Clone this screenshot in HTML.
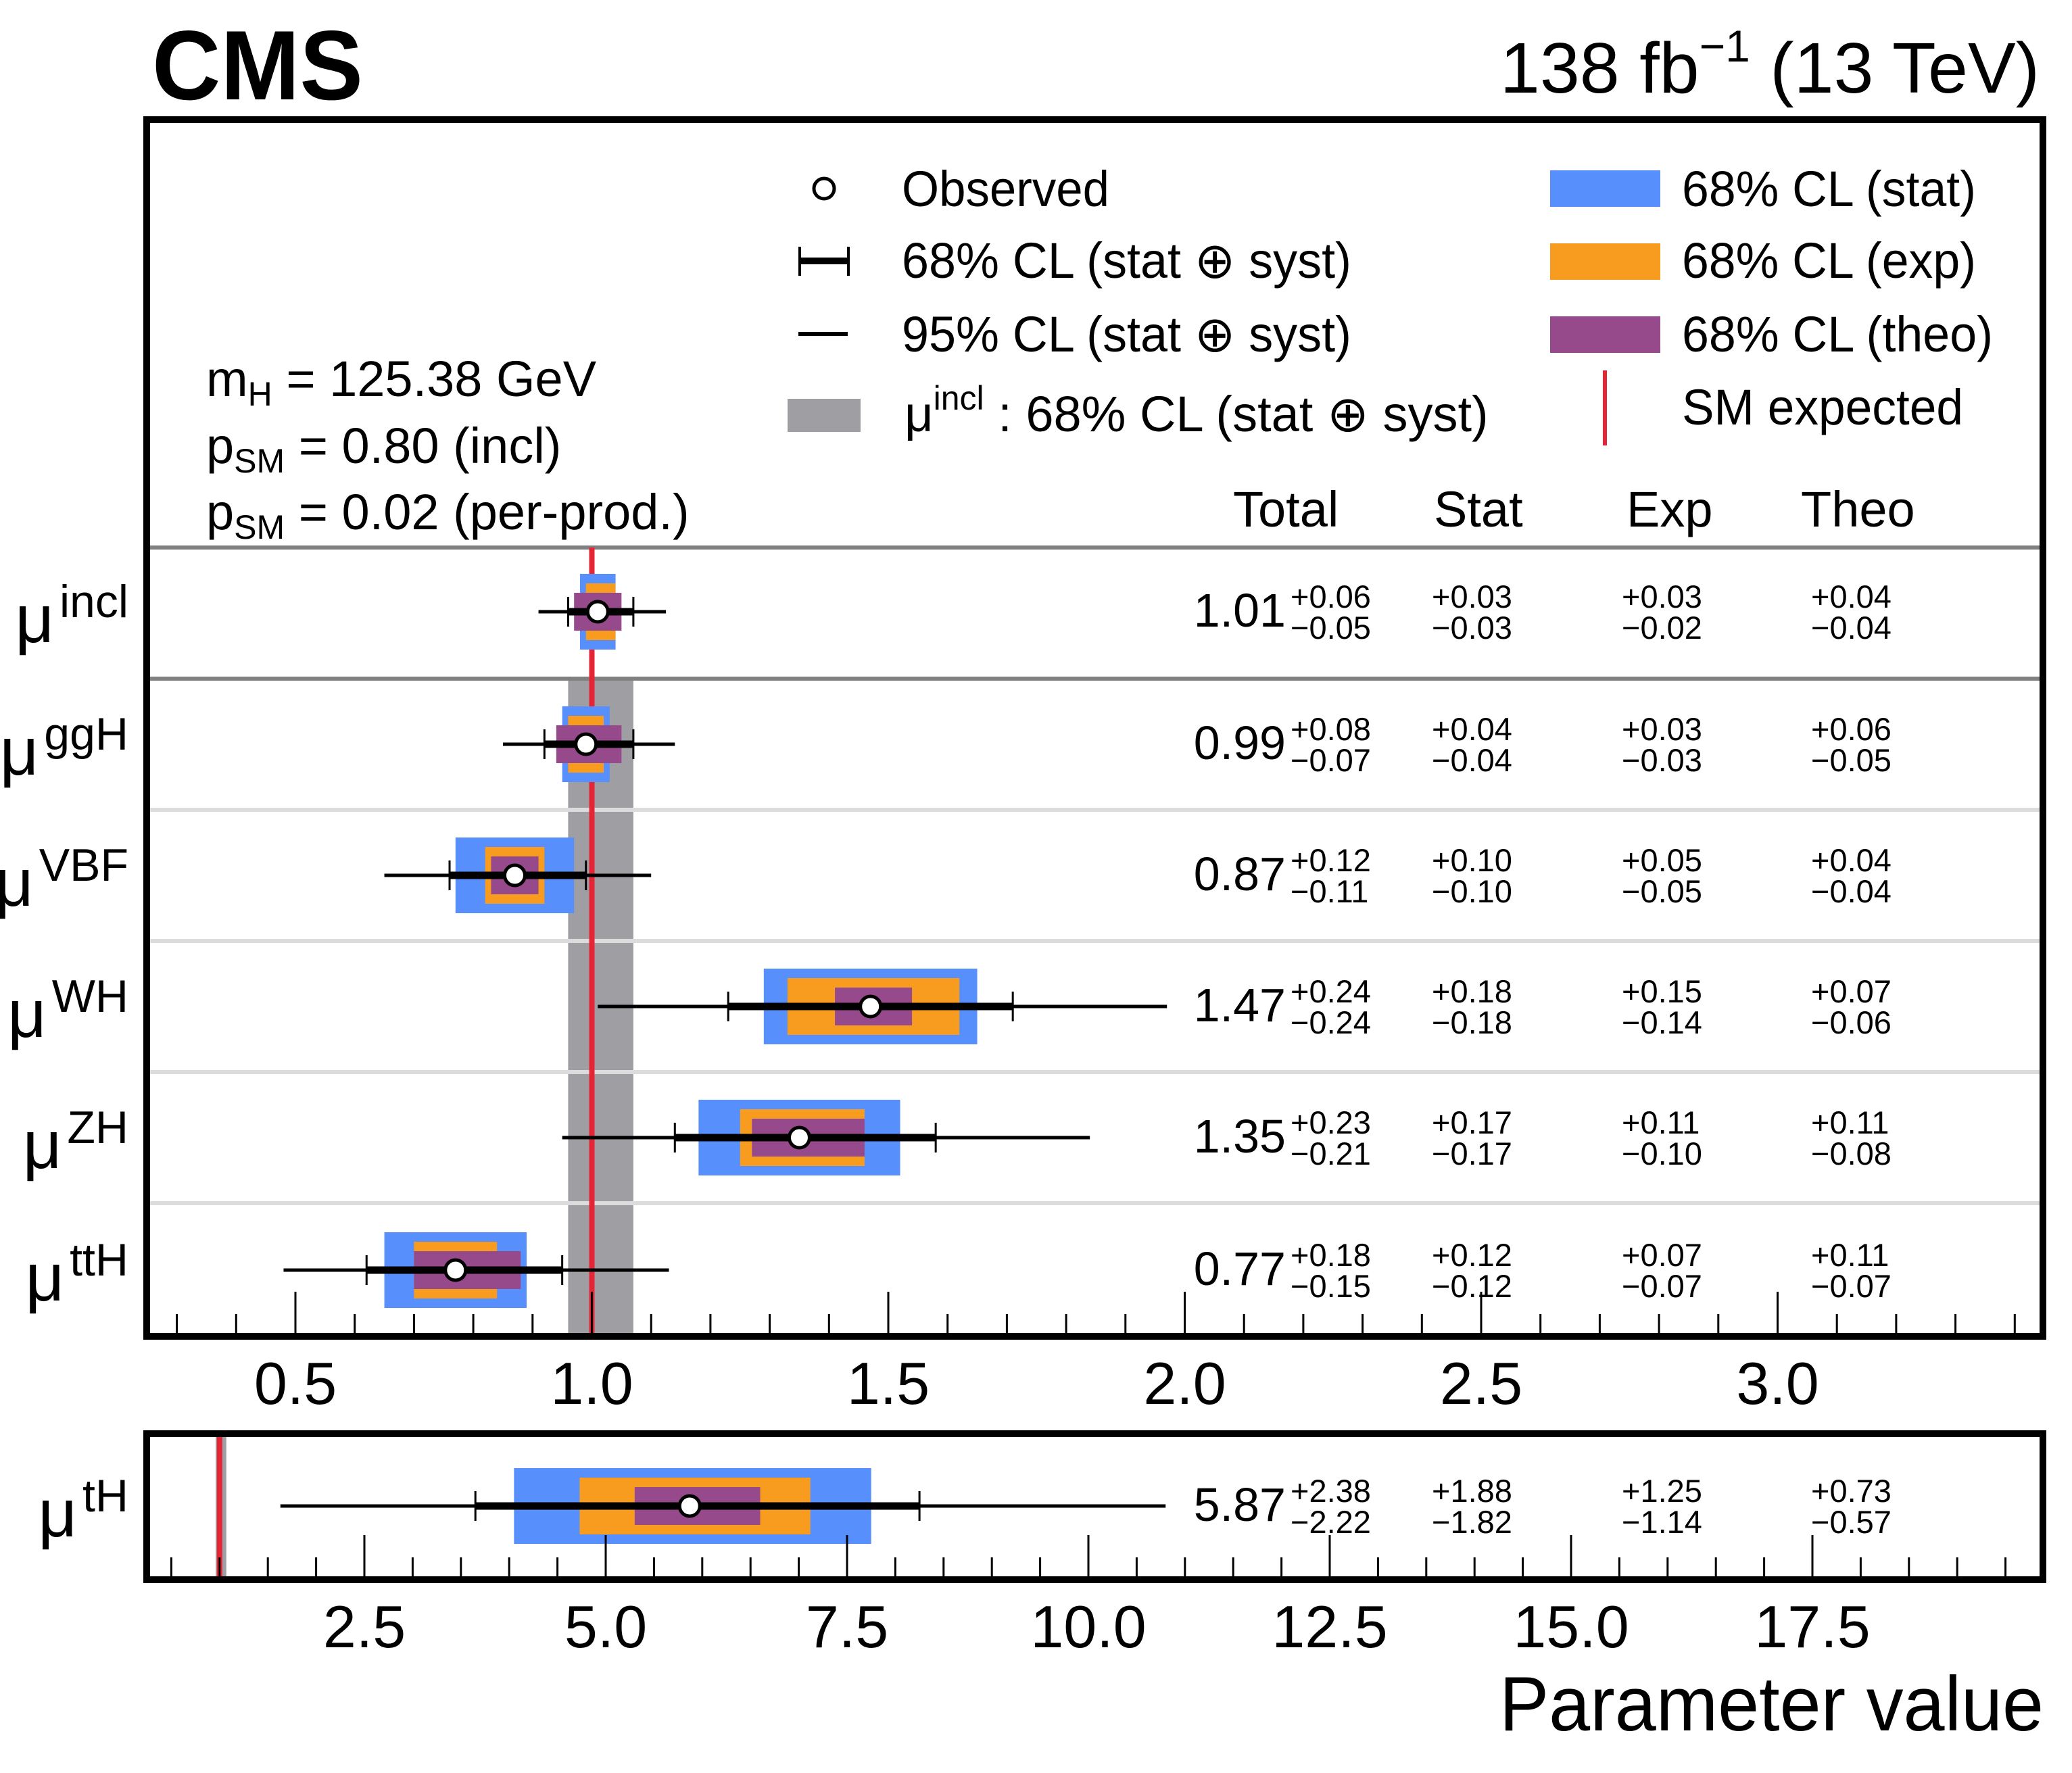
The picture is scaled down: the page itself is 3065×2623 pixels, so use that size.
<!DOCTYPE html>
<html><head><meta charset="utf-8"><style>
html,body{margin:0;padding:0;background:#fff;}
svg{display:block;font-family:"Liberation Sans",Arial,sans-serif;}
</style></head><body>
<svg id="chart" width="3065" height="2623" viewBox="0 0 3065 2623" xmlns="http://www.w3.org/2000/svg">
<rect x="0" y="0" width="3065" height="2623" fill="#fff"/>
<g id="plot"></g>
<text x="225" y="147" font-size="146" font-weight="bold" textLength="312" lengthAdjust="spacingAndGlyphs">CMS</text>
<text x="3017" y="137" font-size="106" text-anchor="end">138 fb<tspan font-size="66" dy="-46">−1</tspan><tspan dy="46"> (13 TeV)</tspan></text>
<g font-size="74">
<text x="305" y="586">m<tspan font-size="50" dy="14">H</tspan><tspan dy="-14"> = 125.38 GeV</tspan></text>
<text x="305" y="685">p<tspan font-size="50" dy="14">SM</tspan><tspan dy="-14"> = 0.80 (incl)</tspan></text>
<text x="305" y="783">p<tspan font-size="50" dy="14">SM</tspan><tspan dy="-14"> = 0.02 (per-prod.)</tspan></text>
</g>
<g font-size="74">
<circle cx="1219" cy="279" r="15" fill="#fff" stroke="#000" stroke-width="5"/>
<text x="1334" y="305" textLength="307" lengthAdjust="spacingAndGlyphs">Observed</text>
<rect x="1181" y="381" width="76" height="10" fill="#000"/>
<rect x="1181" y="365" width="4" height="43" fill="#000"/>
<rect x="1253" y="365" width="4" height="43" fill="#000"/>
<text x="1334" y="411" textLength="665" lengthAdjust="spacingAndGlyphs">68% CL (stat ⊕ syst)</text>
<rect x="1181" y="491" width="73" height="6" fill="#000"/>
<text x="1334" y="520" textLength="665" lengthAdjust="spacingAndGlyphs">95% CL (stat ⊕ syst)</text>
<rect x="1165" y="590" width="108" height="49" fill="#9e9ea3"/>
<text x="1338" y="638">μ<tspan font-size="50" dy="-32">incl</tspan><tspan dy="32"> : 68% CL (stat ⊕ syst)</tspan></text>
<rect x="2293" y="252" width="163" height="54" fill="#5790fc"/>
<text x="2488" y="305" textLength="435" lengthAdjust="spacingAndGlyphs">68% CL (stat)</text>
<rect x="2293" y="360" width="163" height="54" fill="#f89c20"/>
<text x="2488" y="411" textLength="435" lengthAdjust="spacingAndGlyphs">68% CL (exp)</text>
<rect x="2293" y="468" width="163" height="54" fill="#964a8b"/>
<text x="2488" y="520" textLength="460" lengthAdjust="spacingAndGlyphs">68% CL (theo)</text>
<rect x="2371" y="548" width="6" height="111" fill="#e42536"/>
<text x="2488" y="628" textLength="416" lengthAdjust="spacingAndGlyphs">SM expected</text>
</g>
<g font-size="74">
<text x="1824" y="779">Total</text><text x="2121" y="779">Stat</text><text x="2406" y="779">Exp</text><text x="2664" y="779">Theo</text>
</g>
<text x="2218" y="2560" font-size="114" textLength="805" lengthAdjust="spacingAndGlyphs">Parameter value</text>
</svg>
<script>
const labels = ["incl","ggH","VBF","WH","ZH","ttH","tH"];
const central = [1.01,0.99,0.87,1.47,1.35,0.77,5.87];
const totUp = [0.06,0.08,0.12,0.24,0.23,0.18,2.38];
const totDn = [0.05,0.07,0.11,0.24,0.21,0.15,2.22];
const statUp = [0.03,0.04,0.10,0.18,0.17,0.12,1.88];
const statDn = [0.03,0.04,0.10,0.18,0.17,0.12,1.82];
const expUp = [0.03,0.03,0.05,0.15,0.11,0.07,1.25];
const expDn = [0.02,0.03,0.05,0.14,0.10,0.07,1.14];
const theoUp = [0.04,0.06,0.04,0.07,0.11,0.11,0.73];
const theoDn = [0.04,0.05,0.04,0.06,0.08,0.07,0.57];
const lo95 = [0.91,0.85,0.65,1.01,0.95,0.48,1.63];
const hi95 = [1.125,1.14,1.10,1.97,1.84,1.13,10.8];
const mainTicks = ["0.5","1.0","1.5","2.0","2.5","3.0"];
const lowTicks = ["2.5","5.0","7.5","10.0","12.5","15.0","17.5"];
const smValue = 1.0;

const NS="http://www.w3.org/2000/svg";
const g=document.getElementById('plot');
function mk(tag,attrs,parent){const e=document.createElementNS(NS,tag);for(const k in attrs)e.setAttribute(k,attrs[k]);(parent||g).appendChild(e);return e;}
const L=218,R=3022;
const xMain=v=>437+(v-0.5)*877;
const xLow=v=>539+(v-2.5)*142.8;
const rowY=[905,1101,1295,1489,1683,1879,2228];
const fmt=v=>v.toFixed(2);

let e;
e=mk('rect',{x:xMain(central[0]-totDn[0]),y:1004,width:xMain(central[0]+totUp[0])-xMain(central[0]-totDn[0]),height:1973-1004,fill:'#9e9ea3'});


e=mk('rect',{x:xLow(central[0]-totDn[0]),y:2126,width:Math.max(3,xLow(central[0]+totUp[0])-xLow(central[0]-totDn[0])),height:2332-2126,fill:'#9e9ea3'});


[1198,1392,1586,1780].forEach(y=>{e=mk('rect',{x:L,y:y-3,width:R-L,height:6,fill:'#dcdcdc'});

});
[810,1004].forEach(y=>{e=mk('rect',{x:L,y:y-3,width:R-L,height:6,fill:'#808080'});

});
e=mk('rect',{x:xMain(smValue)-4,y:810,width:8,height:1973-810,fill:'#e42536'});


e=mk('rect',{x:xLow(smValue)-4,y:2126,width:8,height:2332-2126,fill:'#e42536'});



labels.forEach((lab,i)=>{
  const X=i===6?xLow:xMain; const y=rowY[i]; const c=central[i];
  const grp=mk('g',{});
  
  
  const box=(lo,hi,h,col,name)=>{const r=mk('rect',{x:X(lo),y:y-h/2,width:X(hi)-X(lo),height:h,fill:col},grp);
    
    };
  box(c-statDn[i],c+statUp[i],112,'#5790fc','stat-box-'+lab);
  box(c-expDn[i],c+expUp[i],84,'#f89c20','exp-box-'+lab);
  box(c-theoDn[i],c+theoUp[i],56,'#964a8b','theo-box-'+lab);
  const l95=mk('rect',{x:X(lo95[i]),y:y-2.5,width:X(hi95[i])-X(lo95[i]),height:5,fill:'#000'},grp);
  
  
  const a=X(c-totDn[i]),b=X(c+totUp[i]);
  const l68=mk('rect',{x:a,y:y-5.5,width:b-a,height:11,fill:'#000'},grp);
  
  
  mk('rect',{x:a-1.5,y:y-22,width:3,height:44,fill:'#000'},grp);
  mk('rect',{x:b-1.5,y:y-22,width:3,height:44,fill:'#000'},grp);
  const cir=mk('circle',{cx:X(c),cy:y,r:15,fill:'#fff',stroke:'#000','stroke-width':5},grp);
  
  
  const t=mk('text',{x:190,y:y+45,'font-size':100,'text-anchor':'end'});
  
  
  t.appendChild(document.createTextNode('μ'));
  const ts=mk('tspan',{dx:8,dy:-37,'font-size':68},t); ts.textContent=lab;
  const v=mk('text',{x:1902,y:y+22,'font-size':70,'text-anchor':'end'});
  
  
  v.textContent=fmt(c);
  const cols=[[1909,totUp[i],totDn[i]],[2118,statUp[i],statDn[i]],[2399,expUp[i],expDn[i]],[2679,theoUp[i],theoDn[i]]];
  cols.forEach((cc,j)=>{
    const u=mk('text',{x:cc[0],y:y-6,'font-size':47});
    
    
    u.textContent='+'+fmt(cc[1]);
    const d=mk('text',{x:cc[0],y:y+40,'font-size':47});
    
    
    d.textContent='−'+fmt(cc[2]);
  });
});

for(let k=3;k<=34;k++){const v=k/10;const x=xMain(v);const major=(k%5===0);
  mk('rect',{x:x-1.5,y:1973-(major?62:29),width:3,height:major?62:29,fill:'#000'});}
mainTicks.forEach(s=>{const t=mk('text',{x:xMain(parseFloat(s)),y:2077,'font-size':88,'text-anchor':'middle'});
  
  
  t.textContent=s;});
for(let k=1;k<=39;k++){const v=k/2;const x=xLow(v);if(x<L+4||x>R-4)continue;const major=(k%5===0);
  mk('rect',{x:x-1.5,y:2332-(major?61:28),width:3,height:major?61:28,fill:'#000'});}
lowTicks.forEach(s=>{const t=mk('text',{x:xLow(parseFloat(s)),y:2437,'font-size':88,'text-anchor':'middle'});
  
  
  t.textContent=s;});

e=mk('rect',{x:217,y:177,width:3022-217,height:1977-177,fill:'none',stroke:'#000','stroke-width':10});


e=mk('rect',{x:217,y:2121,width:3022-217,height:2337-2121,fill:'none',stroke:'#000','stroke-width':10});


</script>
</body></html>
